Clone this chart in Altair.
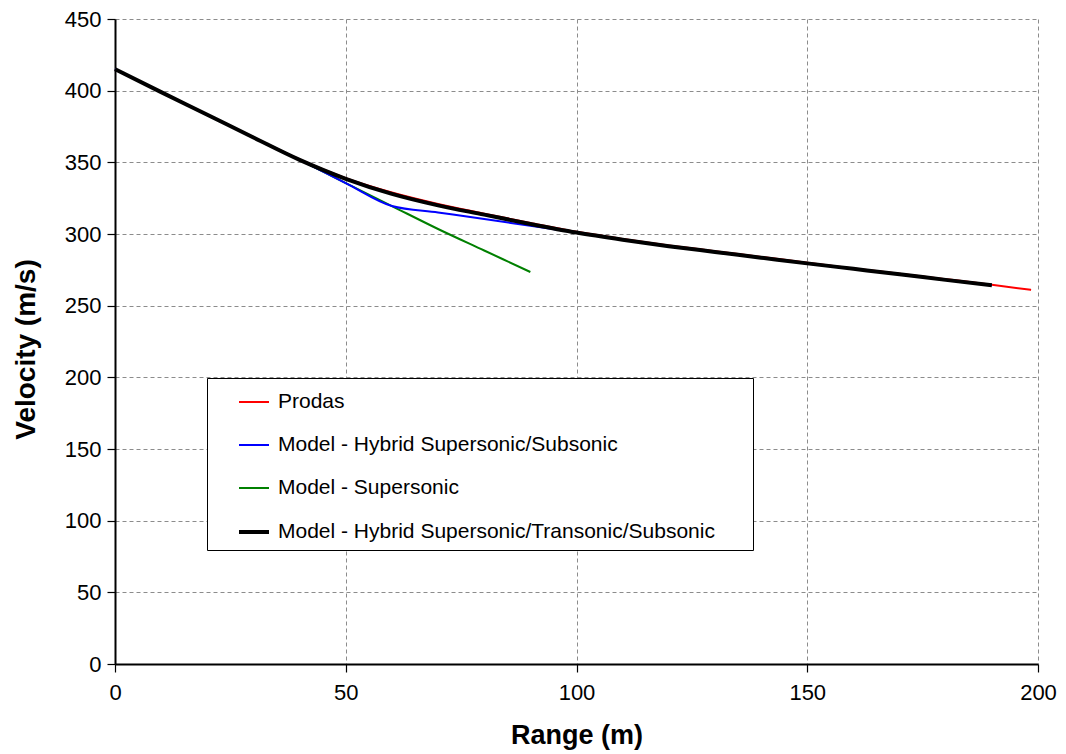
import altair as alt
import pandas as pd

# Prodas
prodas_x = [0, 10, 20, 30, 40, 50, 60, 70, 80, 90, 100, 110, 120, 130, 140, 150, 160, 170, 180, 190, 198.5]
prodas_v = [415, 399, 383.2, 367.5, 352, 339, 329, 321, 314.2, 307.7, 301.5, 296.5, 292, 288, 284, 280, 276, 272.3, 268.5, 264.6, 261]

# Model - Hybrid Supersonic/Subsonic
hyb_x = [0, 10, 20, 30, 40, 50, 60, 70, 80, 90, 100, 110, 120, 130, 140, 150, 160, 170, 180, 190]
hyb_v = [415, 399, 383.2, 367.3, 351.7, 335.5, 319.5, 315, 310.5, 305.7, 301, 296, 291.5, 287.5, 283.5, 279.5, 275.7, 271.9, 268, 264.2]

# Model - Supersonic
sup_x = [0, 10, 20, 30, 40, 50, 60, 70, 80, 90]
sup_v = [415, 399, 383.2, 367.3, 351.7, 335.5, 319.5, 303.5, 288.5, 273.5]

# Model - Hybrid Supersonic/Transonic/Subsonic
hst_x = [0, 10, 20, 30, 40, 50, 60, 70, 80, 90, 100, 110, 120, 130, 140, 150, 160, 170, 180, 190]
hst_v = [415, 399, 383.2, 367.3, 351.7, 338.5, 328, 320, 313.5, 307, 301, 296, 291.5, 287.5, 283.5, 279.5, 275.7, 271.9, 268, 264.2]

names = [
    "Prodas",
    "Model - Hybrid Supersonic/Subsonic",
    "Model - Supersonic",
    "Model - Hybrid Supersonic/Transonic/Subsonic",
]
colors = ["#ff0000", "#0000ff", "#008000", "#000000"]
widths = [2, 2, 2, 4]

rows = []
for name, xs, vs in zip(names, [prodas_x, hyb_x, sup_x, hst_x], [prodas_v, hyb_v, sup_v, hst_v]):
    for x, v in zip(xs, vs):
        rows.append({"series": name, "range": x, "velocity": v})
df = pd.DataFrame(rows)

FONT = "Liberation Sans"

legend = alt.Legend(
    title=None,
    orient="none",
    legendX=92,
    legendY=359,
    symbolType="stroke",
    symbolSize=900,
    labelFont=FONT,
    labelFontSize=21,
    labelColor="#000000",
    labelLimit=0,
    labelOffset=7,
    labelExpr="datum.label + '\u2800\u2800'",
    padding=8,
    symbolOffset=22,
    rowPadding=17,
    strokeColor="#000000",
    fillColor="#ffffff",
)

color = alt.Color(
    "series:N",
    scale=alt.Scale(domain=names, range=colors),
    legend=legend,
)
sw = alt.StrokeWidth(
    "series:N",
    scale=alt.Scale(type="ordinal", domain=names, range=widths),
    legend=legend,
)

xenc = alt.X(
    "range:Q",
    title="Range (m)",
    scale=alt.Scale(domain=[0, 200], nice=False),
    axis=alt.Axis(values=[0, 50, 100, 150, 200], labelFlush=False),
)
yenc = alt.Y(
    "velocity:Q",
    title="Velocity (m/s)",
    scale=alt.Scale(domain=[0, 450], nice=False),
    axis=alt.Axis(values=[0, 50, 100, 150, 200, 250, 300, 350, 400, 450], titleY=330),
)

layers = []
for name in ["Prodas", "Model - Supersonic", "Model - Hybrid Supersonic/Subsonic",
             "Model - Hybrid Supersonic/Transonic/Subsonic"]:
    layers.append(
        alt.Chart(df)
        .transform_filter(alt.datum.series == name)
        .mark_line(interpolate="monotone")
        .encode(x=xenc, y=yenc, color=color, strokeWidth=sw, order="range:Q")
    )

chart = (
    alt.layer(*layers)
    .properties(
        width=923,
        height=645,
        autosize=alt.AutoSizeParams(type="none"),
        padding={"left": 107, "top": 11, "right": 20, "bottom": 92},
    )
    .configure_view(strokeWidth=0)
    .configure_axis(
        labelFont=FONT,
        labelFontSize=22,
        labelColor="#000000",
        titleFont=FONT,
        titleFontWeight="bold",
        titleColor="#000000",
        grid=True,
        gridColor="#8c8c8c",
        gridDash=[4, 3],
        gridWidth=1,
        domainColor="#000000",
        domainWidth=2,
        tickColor="#000000",
        tickWidth=1.2,
        tickSize=8,
    )
    .configure_axisY(labelPadding=6, titlePadding=24, titleFontSize=28)
    .configure_axisX(labelPadding=10, titlePadding=19, titleFontSize=27)
)

chart.save("out.html", embed_options={"renderer": "svg", "actions": False})
